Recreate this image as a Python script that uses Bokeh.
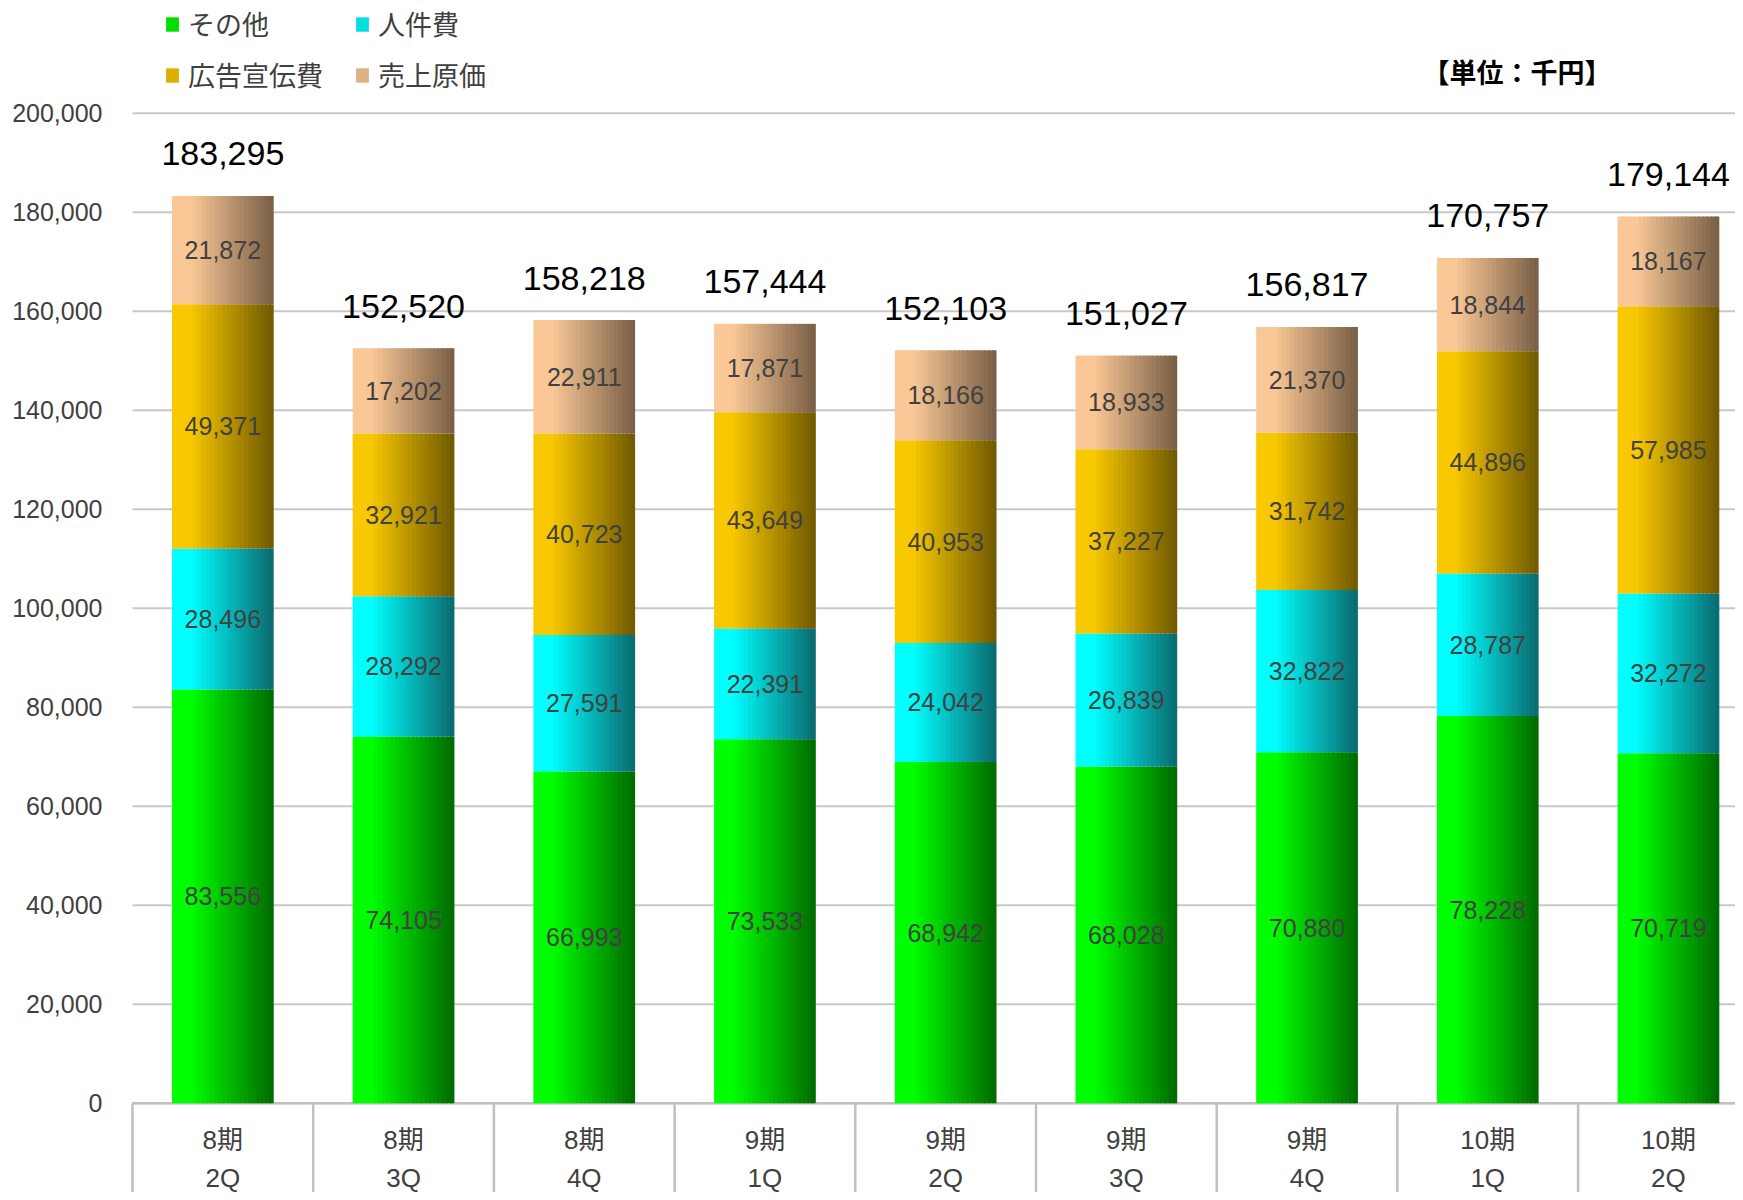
import numpy as np
from bokeh.plotting import figure
from bokeh.models import Range1d, Legend, LegendItem, Label, ColumnDataSource
from bokeh.core.properties import value
from bokeh.embed import file_html
from bokeh.resources import INLINE

# ---------------- data ----------------
periods = ["8期", "8期", "8期", "9期", "9期", "9期", "9期", "10期", "10期"]
quarters = ["2Q", "3Q", "4Q", "1Q", "2Q", "3Q", "4Q", "1Q", "2Q"]
series_names = ["その他", "人件費", "広告宣伝費", "売上原価"]
sonota = [83556, 74105, 66993, 73533, 68942, 68028, 70880, 78228, 70719]
jinkenhi = [28496, 28292, 27591, 22391, 24042, 26839, 32822, 28787, 32272]
kokoku = [49371, 32921, 40723, 43649, 40953, 37227, 31742, 44896, 57985]
genka = [21872, 17202, 22911, 17871, 18166, 18933, 21370, 18844, 18167]
totals = [183295, 152520, 158218, 157444, 152103, 151027, 156817, 170757, 179144]
y_ticks = [0, 20000, 40000, 60000, 80000, 100000, 120000, 140000, 160000, 180000, 200000]
y_tick_labels = ["0", "20,000", "40,000", "60,000", "80,000", "100,000", "120,000",
                 "140,000", "160,000", "180,000", "200,000"]
unit_text = "【単位：千円】"

series_values = [sonota, jinkenhi, kokoku, genka]
# gradient end colours (left bright -> right dark)
grad_colors = [((0, 255, 0), (0, 105, 0)),
               ((0, 255, 255), (10, 105, 110)),
               ((248, 200, 0), (110, 88, 0)),
               ((250, 200, 150), (120, 94, 70))]

NUM = "'Liberation Sans', 'Noto Sans CJK JP'"
CJK = "'Noto Sans CJK JP'"
TXT = "#404040"
GRID = "#c8c8c8"

n = len(periods)
W = 0.563
N = 24

FIG_W, FIG_H = 1735, 1192
PLOT_LEFT, CAT_W = 132.0, 180.7
Y_TOP_PX, Y_ZERO_PX = 112.7, 1102.7
px_per_unit = (Y_ZERO_PX - Y_TOP_PX) / 200000
x_start = -PLOT_LEFT / CAT_W
x_end = (FIG_W - PLOT_LEFT) / CAT_W
y_end = 200000 + Y_TOP_PX / px_per_unit
y_start = -(FIG_H - Y_ZERO_PX) / px_per_unit

p = figure(width=FIG_W, height=FIG_H, output_backend="svg", toolbar_location=None,
           x_range=Range1d(x_start, x_end), y_range=Range1d(y_start, y_end),
           min_border=0, x_axis_location=None, y_axis_location=None)
p.outline_line_color = None
p.grid.grid_line_color = None

# value grid + tick labels
yt = np.array(y_ticks, dtype=float)
p.segment(x0=np.zeros(len(yt)), y0=yt, x1=np.full(len(yt), x_end), y1=yt,
          line_color=GRID, line_width=2)
ysrc = ColumnDataSource(dict(x=np.zeros(len(yt)), y=yt, t=y_tick_labels))
p.text(x="x", y="y", text="t", source=ysrc, text_font=value(NUM), text_font_size="25px",
       text_color=TXT, text_align="right", text_baseline="middle", x_offset=-30)

# category axis: separators below the base line
bounds = np.arange(n + 1)
p.segment(x0=bounds, y0=np.zeros(n + 1), x1=bounds, y1=np.full(n + 1, y_start),
          line_color="#c0c0c0", line_width=2.5)
p.segment(x0=[0], y0=[0], x1=[x_end], y1=[0], line_color="#c0c0c0", line_width=2.5)

centers = np.arange(n) + 0.5
csrc = ColumnDataSource(dict(x=centers, y=np.zeros(n), per=periods, q=quarters))
p.text(x="x", y="y", text="per", source=csrc, text_font=value(NUM), text_font_size="26px",
       text_color=TXT, text_align="center", text_baseline="middle", y_offset=37)
p.text(x="x", y="y", text="q", source=csrc, text_font=value(NUM), text_font_size="26px",
       text_color=TXT, text_align="center", text_baseline="middle", y_offset=75)

bottom = np.zeros(n)
rep_renderers = []
for s, vals in enumerate(series_values):
    vals = np.array(vals, dtype=float)
    top = bottom + vals
    c0, c1 = grad_colors[s]
    rep = None
    for k in range(N):
        t = (k + 0.5) / N
        f = min(max((t - 0.18) / 0.82, 0.0), 1.0)
        col = tuple(int(round(c0[j] + (c1[j] - c0[j]) * f)) for j in range(3))
        hexcol = "#%02x%02x%02x" % col
        left = centers - W / 2 + k * W / N
        right = left + W / N * (1.0 if k == N - 1 else 1.35)
        r = p.quad(left=left, right=right, bottom=bottom.copy(), top=top.copy(),
                   fill_color=hexcol, line_color=None)
        if k == N // 3:
            rep = r
    rep_renderers.append(rep)
    mids = (bottom + top) / 2
    src = ColumnDataSource(dict(x=centers, y=mids, t=["{:,}".format(int(v)) for v in vals]))
    p.text(x="x", y="y", text="t", source=src, text_font=value(NUM), text_font_size="25px",
           text_color=TXT, text_align="center", text_baseline="middle")
    bottom = top

tsrc = ColumnDataSource(dict(x=centers, y=totals, t=["{:,}".format(v) for v in totals]))
p.text(x="x", y="y", text="t", source=tsrc, text_font=value(NUM), text_font_size="34px",
       text_color="#000000", text_align="center", text_baseline="middle", y_offset=-42)

# legends (one per item to match placement)
leg_pos = [(164, FIG_H - 43), (354, FIG_H - 43), (164, FIG_H - 94), (354, FIG_H - 94)]
for s in range(4):
    lg = Legend(items=[LegendItem(label=series_names[s], renderers=[rep_renderers[s]])],
                location=leg_pos[s], orientation="horizontal",
                glyph_width=16, glyph_height=18, label_standoff=8,
                label_text_font=CJK, label_text_font_size="27px", label_text_color=TXT,
                padding=0, margin=0, border_line_color=None, background_fill_alpha=0)
    p.add_layout(lg, "center")

p.add_layout(Label(x=1422, y=FIG_H - 71, x_units="screen", y_units="screen", text=unit_text,
                   text_font=CJK, text_font_size="27px", text_font_style="bold",
                   text_color="#000000", text_baseline="middle"))

open("out.html", "w").write(file_html(p, INLINE))
